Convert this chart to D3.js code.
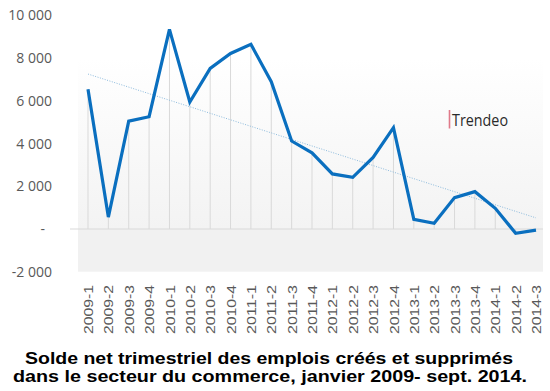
<!DOCTYPE html>
<html><head><meta charset="utf-8">
<script src="https://cdn.jsdelivr.net/npm/d3@7"></script>
<style>
body{margin:0;background:#fff;}
svg{display:block;}
</style></head>
<body>
<svg id="chart" width="550" height="391"></svg>
<script>
const categories = ["2009-1","2009-2","2009-3","2009-4","2010-1","2010-2","2010-3","2010-4",
  "2011-1","2011-2","2011-3","2011-4","2012-1","2012-2","2012-3","2012-4",
  "2013-1","2013-2","2013-3","2013-4","2014-1","2014-2","2014-3"];
const values = [6550,560,5050,5260,9350,5950,7520,8220,
  8650,6900,4120,3570,2580,2420,3350,4750,
  450,270,1470,1750,970,-200,-50];
const yTicks = [-2000,0,2000,4000,6000,8000,10000];
const titleLines = ["Solde net trimestriel des emplois créés et supprimés",
  "dans le secteur du commerce, janvier 2009- sept. 2014."];
const logoText = "Trendeo";

const svg = d3.select("#chart");
const x = d3.scalePoint().domain(categories).range([88, 536]);
const y = d3.scaleLinear().domain([-2000, 10000]).range([271.7, 15.5]);

// background gradient
const defs = svg.append("defs");
const grad = defs.append("linearGradient").attr("id","bg").attr("x1",0).attr("y1",0).attr("x2",0).attr("y2",1);
grad.append("stop").attr("offset","0%").attr("stop-color","#ffffff");
grad.append("stop").attr("offset","100%").attr("stop-color","#f3f3f3");

svg.append("rect").attr("x",78).attr("y",y(8000)).attr("width",465).attr("height",y(0)-y(8000)).attr("fill","url(#bg)");
svg.append("rect").attr("x",78).attr("y",y(0)).attr("width",465).attr("height",y(-2000)-y(0)).attr("fill","#f1f1f1");

// zero line
svg.append("line").attr("x1",70).attr("x2",543).attr("y1",y(0)).attr("y2",y(0))
  .attr("stroke","#d9d9d9").attr("stroke-width",1);

// drop lines
svg.append("g").selectAll("line").data(values).join("line")
  .attr("x1",(d,i)=>x(categories[i])).attr("x2",(d,i)=>x(categories[i]))
  .attr("y1",y(0)).attr("y2",d=>y(d))
  .attr("stroke","#d9d9d9").attr("stroke-width",1);

// y axis
const loc = d3.formatLocale({thousands:"\u00a0", grouping:[3], decimal:",", currency:["",""], minus:"-"});
const fmt = loc.format(",d");
const yAxis = d3.axisLeft(y).tickValues(yTicks).tickSize(0).tickPadding(4)
  .tickFormat(d => d === 0 ? "-" : fmt(d));
const gy = svg.append("g").attr("transform","translate(56,0)").call(yAxis);
gy.select(".domain").remove();
gy.selectAll("text").attr("font-family","'Open Sans', sans-serif").attr("font-size","14px")
  .attr("fill","#595959").attr("dx", d => d === 0 ? -7 : 0);

// x axis
const xAxis = d3.axisBottom(x).tickSize(0).tickPadding(0);
const gx = svg.append("g").attr("transform","translate(0,285)").call(xAxis);
gx.select(".domain").remove();
gx.selectAll("text")
  .attr("font-family","'Liberation Sans', Arial, sans-serif").attr("font-size","13px")
  .attr("fill","#595959")
  .attr("transform","rotate(-90)")
  .attr("x",-49).attr("y",0).attr("dy","0.35em")
  .attr("text-anchor","start")
  .attr("textLength",49).attr("lengthAdjust","spacingAndGlyphs");

// trend line (least squares)
const n = values.length;
const xm = (n-1)/2, ym = d3.mean(values);
let sxy = 0, sxx = 0;
values.forEach((v,i)=>{ sxy += (i-xm)*(v-ym); sxx += (i-xm)*(i-xm); });
const slope = sxy/sxx, icpt = ym - slope*xm;
svg.append("line")
  .attr("x1",x(categories[0])).attr("y1",y(icpt))
  .attr("x2",x(categories[n-1])).attr("y2",y(icpt+slope*(n-1)))
  .attr("stroke","#8dbbdd").attr("stroke-width",1).attr("stroke-dasharray","1,1.5");

// main line
const line = d3.line().x((d,i)=>x(categories[i])).y(d=>y(d));
svg.append("path").datum(values).attr("d",line)
  .attr("fill","none").attr("stroke","#0a6fbf").attr("stroke-width",3.2)
  .attr("stroke-linejoin","miter").attr("stroke-linecap","butt");

// logo
svg.append("line").attr("x1",449.5).attr("x2",449.5).attr("y1",110).attr("y2",128.5)
  .attr("stroke","#e07a8a").attr("stroke-width",1.6);
svg.append("text").attr("x",452).attr("y",125.5).text(logoText)
  .attr("font-family","'Open Sans', sans-serif").attr("font-size","16px").attr("fill","#2a2a2a")
  .attr("textLength",56).attr("lengthAdjust","spacingAndGlyphs");

// title
const tl = svg.append("g");
tl.append("text").attr("x",269).attr("y",364).attr("text-anchor","middle").text(titleLines[0])
  .attr("font-family","'Liberation Sans', Arial, sans-serif").attr("font-weight","bold").attr("font-size","17px")
  .attr("fill","#000").attr("textLength",488).attr("lengthAdjust","spacingAndGlyphs");
tl.append("text").attr("x",270).attr("y",382).attr("text-anchor","middle").text(titleLines[1])
  .attr("font-family","'Liberation Sans', Arial, sans-serif").attr("font-weight","bold").attr("font-size","17px")
  .attr("fill","#000").attr("textLength",514).attr("lengthAdjust","spacingAndGlyphs");
</script>
</body></html>
